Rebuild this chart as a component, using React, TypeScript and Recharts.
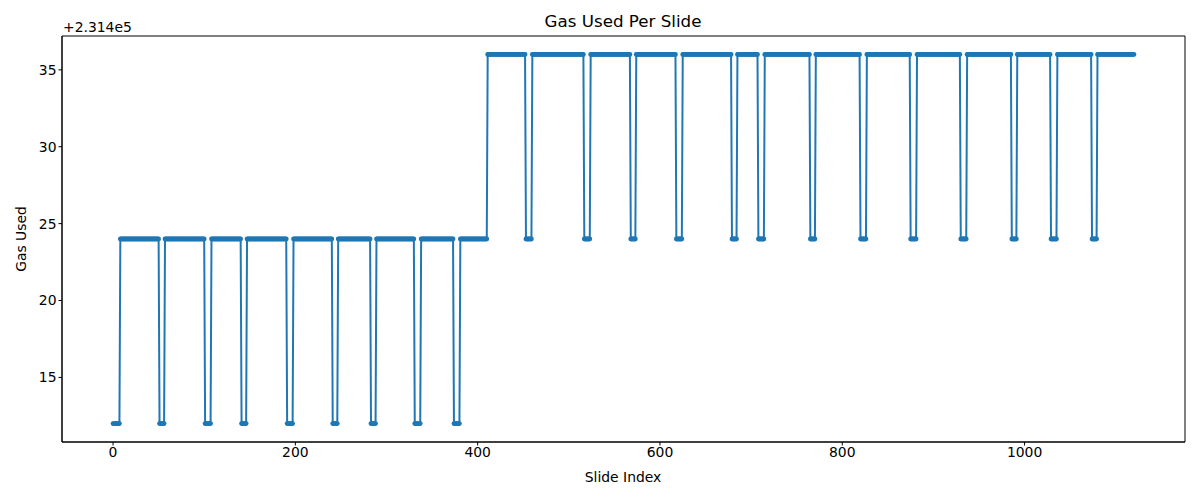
import React from "react";
import {
  LineChart,
  Line,
  XAxis,
  YAxis,
  ReferenceArea,
} from "recharts";

// gas used per slide, stored as runs: each run starts at runStart[i] and holds runGas[i]
const runStart = [
  0, 8, 51, 57, 101, 108, 141, 147, 191, 198, 241, 247, 283, 289, 331, 338, 374, 381,
  411, 453, 460, 517, 524, 568, 574, 618, 625, 679, 685, 708, 715, 765, 771, 820, 827,
  875, 882, 930, 937, 986, 992, 1029, 1036, 1074, 1080,
];
const runGas = [
  231412, 231424, 231412, 231424, 231412, 231424, 231412, 231424, 231412, 231424,
  231412, 231424, 231412, 231424, 231412, 231424, 231412, 231424,
  231436, 231424, 231436, 231424, 231436, 231424, 231436, 231424, 231436, 231424,
  231436, 231424, 231436, 231424, 231436, 231424, 231436, 231424, 231436, 231424,
  231436, 231424, 231436, 231424, 231436, 231424, 231436,
];
const lastSlide = 1120;

const xTicks = [0, 200, 400, 600, 800, 1000];
const yTicks = [231415, 231420, 231425, 231430, 231435];
const yOffset = 231400; // shown as +2.314e5

const data: { slide: number; gas: number }[] = [];
for (let r = 0; r < runStart.length; r++) {
  const end = r + 1 < runStart.length ? runStart[r + 1] - 1 : lastSlide;
  for (let i = runStart[r]; i <= end; i++) data.push({ slide: i, gas: runGas[r] });
}

const xDomain: [number, number] = [-56, 1176];
const yDomain: [number, number] = [231410.8, 231437.2];

const font = "'DejaVu Sans', sans-serif";
const tickStyle = { fill: "#000", fontSize: 13.9, fontFamily: font };

export default function App() {
  return (
    <div style={{ position: "absolute", left: 0, top: 0, width: 1200, height: 500, background: "#fff" }}>
      <LineChart
        width={1200}
        height={500}
        data={data}
        margin={{ top: 36, right: 15, bottom: 28, left: 7 }}
      >
        <XAxis
          dataKey="slide"
          type="number"
          domain={xDomain}
          ticks={xTicks}
          allowDataOverflow
          height={30}
          tickSize={3.5}
          tick={tickStyle}
          stroke="#000"
        />
        <YAxis
          type="number"
          domain={yDomain}
          ticks={yTicks}
          allowDataOverflow
          width={55}
          tickSize={3.5}
          tick={tickStyle}
          stroke="#000"
          tickFormatter={(v: number) => String(v - yOffset)}
        />
        <ReferenceArea
          x1={xDomain[0]}
          x2={xDomain[1]}
          y1={yDomain[0]}
          y2={yDomain[1]}
          fill="none"
          stroke="#000"
          strokeWidth={1}
          ifOverflow="extendDomain"
        />
        <Line
          type="linear"
          dataKey="gas"
          stroke="#1f77b4"
          strokeWidth={2}
          dot={{ r: 2.4, fill: "#1f77b4", stroke: "none" }}
          isAnimationActive={false}
        />
      </LineChart>
      <div style={{ position: "absolute", left: 0, top: 0, width: 1200, height: 500, pointerEvents: "none" }}>
        <svg width={1200} height={500} style={{ fontFamily: font }}>
          <text x={623} y={27} textAnchor="middle" fontSize={16.7} fill="#000">
            Gas Used Per Slide
          </text>
          <text x={63} y={32} fontSize={13.9} fill="#000">
            +2.314e5
          </text>
          <text x={623} y={482} textAnchor="middle" fontSize={13.9} fill="#000">
            Slide Index
          </text>
          <text x={26} y={239} textAnchor="middle" fontSize={13.9} fill="#000" transform="rotate(-90 26 239)">
            Gas Used
          </text>
        </svg>
      </div>
    </div>
  );
}
